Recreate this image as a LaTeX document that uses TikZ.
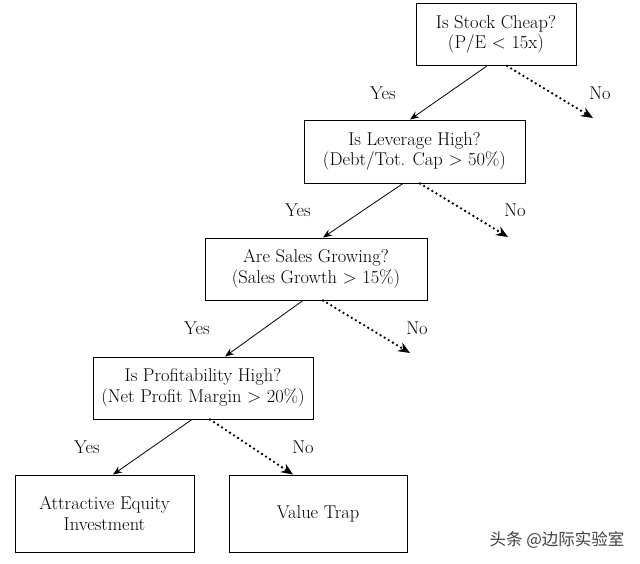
\documentclass[tikz,border=0pt]{standalone}
\usepackage{fontspec}
\newfontfamily\cjk{Noto Sans CJK SC}
\usetikzlibrary{arrows.meta,calc}
\begin{document}
\begin{tikzpicture}[x=1pt,y=-1pt,
  box/.style={draw,line width=0.9pt,rectangle,align=center,inner sep=0pt,
    font=\fontsize{18.5}{20.5}\selectfont},
  lbl/.style={font=\fontsize{18.5}{20}\selectfont,inner sep=0pt},
  yesarr/.style={draw,line width=0.8pt,-{Stealth[length=9pt,width=7pt]}},
  noarr/.style={draw,line width=2.6pt,line cap=round,dash pattern=on 0pt off 4.8pt,
    -{Stealth[length=12pt,width=10pt,line width=0pt]}}]
\useasboundingbox[fill=white] (0,0) rectangle (640,563);
\node[box,minimum width=160pt,minimum height=62pt] (b1) at (496,34.5) {Is Stock Cheap?\\(P/E < 15x)};
\node[box,minimum width=221pt,minimum height=63pt] (b2) at (414.5,151.5) {Is Leverage High?\\(Debt/Tot. Cap > 50\%)};
\node[box,minimum width=222pt,minimum height=62pt] (b3) at (316,269) {Are Sales Growing?\\(Sales Growth > 15\%)};
\node[box,minimum width=220pt,minimum height=62pt] (b4) at (203,388) {Is Profitability High?\\(Net Profit Margin > 20\%)};
\node[box,minimum width=179pt,minimum height=77pt] (b5) at (104.5,513.5) {Attractive Equity\\Investment};
\node[box,minimum width=178pt,minimum height=77pt] (b6) at (318,513.5) {Value Trap};
\coordinate (n1) at (593,118);
\coordinate (n2) at (508,237);
\coordinate (n3) at (410,353);
\path[yesarr] ([xshift=-9pt]b1.south) -- ([xshift=-4.5pt]b2.north);
\path[noarr] ([xshift=11pt]b1.south) -- (n1);
\path[yesarr] ([xshift=-11.5pt]b2.south) -- ([xshift=7pt]b3.north);
\path[noarr] ([xshift=5.5pt]b2.south) -- (n2);
\path[yesarr] ([xshift=-13pt]b3.south) -- ([xshift=22pt]b4.north);
\path[noarr] ([xshift=7pt]b3.south) -- (n3);
\path[yesarr] ([xshift=-11pt]b4.south) -- ([xshift=8.5pt]b5.north);
\path[noarr] ([xshift=7pt]b4.south) -- ([xshift=-25pt]b6.north);
\node[lbl] (y1) at (383,93) {Yes};
\node[lbl] (o1) at (600,93) {No};
\node[lbl] (y2) at (298,210) {Yes};
\node[lbl] (o2) at (515,210) {No};
\node[lbl] (y3) at (197,328) {Yes};
\node[lbl] (o3) at (417,328) {No};
\node[lbl] (y4) at (87,447) {Yes};
\node[lbl] (o4) at (303,447) {No};
\node[inner sep=0pt,text=black!75,font=\cjk\fontsize{16.5}{18}\selectfont] (wm) at (557,540) {头条 @边际实验室};
\end{tikzpicture}
\end{document}
